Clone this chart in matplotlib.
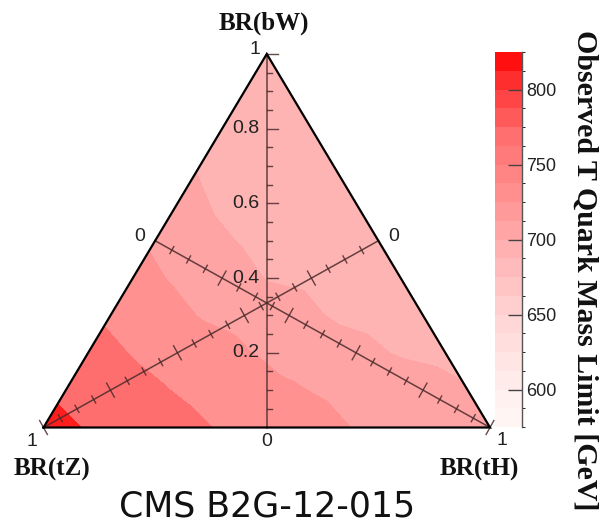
import numpy as np
import matplotlib
matplotlib.use("Agg")
import matplotlib.pyplot as plt
import matplotlib.tri as mtri
from matplotlib.colors import (LinearSegmentedColormap, ListedColormap,
                               BoundaryNorm, Normalize)
from matplotlib.cm import ScalarMappable

# Observed T quark mass limit [GeV] on a BR(bW) / BR(tH) grid (step 0.1),
# BR(tZ) = 1 - BR(bW) - BR(tH).  One row per BR(bW) value, BR(tH) = 0, 0.1, ...
br_bw = [0.0, 0.1, 0.2, 0.3, 0.4, 0.5, 0.6, 0.7, 0.8, 0.9, 1.0]
limit_rows = [
    [815, 791, 774, 756, 742, 732, 722, 714, 711, 708, 705],
    [783, 766, 749, 737, 727, 717, 712, 708, 705, 701],
    [760, 743, 732, 721, 712, 708, 703, 699, 697],
    [739, 726, 714, 709, 704, 699, 697, 695],
    [723, 712, 706, 699.5, 698, 696, 694],
    [712, 704, 699, 697, 695, 693],
    [705, 698, 696, 694, 693],
    [699, 696, 694, 693],
    [697, 694, 692],
    [694, 692],
    [692],
]

# contour levels inside the triangle and the colour scale
fill_levels = [680, 700, 715, 745, 795, 830]
scale_levels = np.arange(575, 825.1, 12.5)
scale_ticks = [600, 650, 700, 750, 800]
scale_anchor_values = [575, 600, 650, 690, 707.5, 730, 770, 800, 812.5, 825]
scale_anchor_colors = ['#fff8f6', '#ffefed', '#ffd3d3', '#ffb4b4', '#ffa4a4',
                       '#ff9191', '#ff6e6e', '#ff3c3c', '#ff2020', '#ff0000']

H = 373.5 / 446.5  # triangle height for unit base (as drawn)


def to_xy(bw, th):
    return th + 0.5 * bw, H * bw


vmin, vmax = scale_levels[0], scale_levels[-1]
norm = Normalize(vmin, vmax)
cmap = LinearSegmentedColormap.from_list(
    'limit', [((v - vmin) / (vmax - vmin), c)
              for v, c in zip(scale_anchor_values, scale_anchor_colors)])

xs, ys, zs = [], [], []
for bw, row in zip(br_bw, limit_rows):
    for i, val in enumerate(row):
        x, y = to_xy(bw, 0.1 * i)
        xs.append(x)
        ys.append(y)
        zs.append(val)
tri = mtri.Triangulation(xs, ys)

fig = plt.figure(figsize=(6.04, 5.25), dpi=100)
ax = fig.add_axes([0, 0, 1, 1])
ax.set_xlim(-43.5 / 446.5, (604 - 43.5) / 446.5)
ax.set_ylim(-97.5 / 446.5, (525 - 97.5) / 446.5)
ax.axis('off')

ax.tricontourf(tri, zs, levels=fill_levels, cmap=cmap, norm=norm)

# outer triangle
top = to_xy(1, 0)
bl = to_xy(0, 0)
br = to_xy(0, 1)
ax.plot([bl[0], br[0], top[0], bl[0]], [bl[1], br[1], top[1], bl[1]],
        color='black', lw=1.6, solid_joinstyle='miter', zorder=5)

axis_color = '#4a2a2a'
px = 1 / 446.5

# BR(bW) axis: vertical, ticks to the right
bot_mid = to_xy(0, 0.5)
ax.plot([bot_mid[0], top[0]], [bot_mid[1], top[1]], color=axis_color,
        lw=1.1, alpha=0.85, zorder=4)
for k in range(1, 21):
    v = k * 0.05
    y = H * v
    major = k % 4 == 0
    ln = (11 if major else 5) * px
    ax.plot([0.5, 0.5 + ln], [y, y], color=axis_color, lw=1.0, alpha=0.85,
            zorder=4)
    if major and k < 20:
        ax.text(0.5 - 7 * px, y, f'{v:.1f}', ha='right', va='center',
                fontsize=14, family='Liberation Sans', color='#222222')


def median_axis(vertex, edge_mid):
    vx, vy = vertex
    mx, my = edge_mid
    ax.plot([mx, vx], [my, vy], color=axis_color, lw=1.1, alpha=0.85,
            zorder=4)
    d = np.array([vx - mx, vy - my])
    d = d / np.hypot(*d)
    nrm = np.array([-d[1], d[0]])
    for k in range(1, 21):
        t = k * 0.05
        cx, cy = mx + t * (vx - mx), my + t * (vy - my)
        major = k % 4 == 0
        ln = (8 if major else 4) * px
        ax.plot([cx - ln * nrm[0], cx + ln * nrm[0]],
                [cy - ln * nrm[1], cy + ln * nrm[1]],
                color=axis_color, lw=1.0, alpha=0.85, zorder=4,
                clip_on=False)


# BR(tZ) axis from the right-edge midpoint (0) to the tZ corner (1)
median_axis(bl, to_xy(0.5, 0.5))
# BR(tH) axis from the left-edge midpoint (0) to the tH corner (1)
median_axis(br, to_xy(0.5, 0.0))

tick_font = dict(fontsize=14, family='Liberation Sans', color='#222222')
ax.text(0.5 - 6 * px, top[1] + 4 * px, '1', ha='right', va='center', **tick_font)
ax.text(0.5, -14 * px, '0', ha='center', va='center', **tick_font)
ax.text(-12 * px, -14 * px, '1', ha='center', va='center', **tick_font)
ax.text(1 + 12 * px, -13 * px, '1', ha='center', va='center', **tick_font)
ax.text(0.25 - 15 * px, H * 0.5 + 4 * px, '0', ha='center', va='center', **tick_font)
ax.text(0.75 + 15 * px, H * 0.5 + 4 * px, '0', ha='center', va='center', **tick_font)

label_font = dict(fontsize=18, family='Liberation Serif', weight='bold',
                  color='#111111')
ax.text(0.494, 0.906, 'BR(bW)', ha='center', va='center', **label_font)
ax.text(0.019, -0.095, 'BR(tZ)', ha='center', va='center', **label_font)
ax.text(0.975, -0.095, 'BR(tH)', ha='center', va='center', **label_font)
ax.text(0.5, -0.176, 'CMS B2G-12-015', ha='center', va='center',
        fontsize=25, family='DejaVu Sans', color='#111111')

# colour scale
band_mids = 0.5 * (scale_levels[:-1] + scale_levels[1:])
band_cmap = ListedColormap(cmap(norm(band_mids)))
band_norm = BoundaryNorm(scale_levels, band_cmap.N)
cax = fig.add_axes([495 / 604, (525 - 427) / 525, 27 / 604, (427 - 52) / 525])
cbar = fig.colorbar(ScalarMappable(norm=band_norm, cmap=band_cmap), cax=cax,
                    ticks=scale_ticks, drawedges=False)
cbar.outline.set_visible(False)
cax.plot([1, 1], [0, 1], transform=cax.transAxes, color='#555555', lw=1.0,
         clip_on=False)
cax.tick_params(axis='y', direction='in', length=10, width=1.0,
                color='#444444', pad=3, labelsize=13, labelcolor='#222222')
for lab in cax.get_yticklabels():
    lab.set_family('Liberation Sans')
fig.text(585 / 604, 1 - 270 / 525, 'Observed T Quark Mass Limit [GeV]',
         rotation=-90, ha='center', va='center', fontsize=21.5,
         family='Liberation Serif', weight='bold', color='#111111')

fig.savefig('out.png', dpi=100)
